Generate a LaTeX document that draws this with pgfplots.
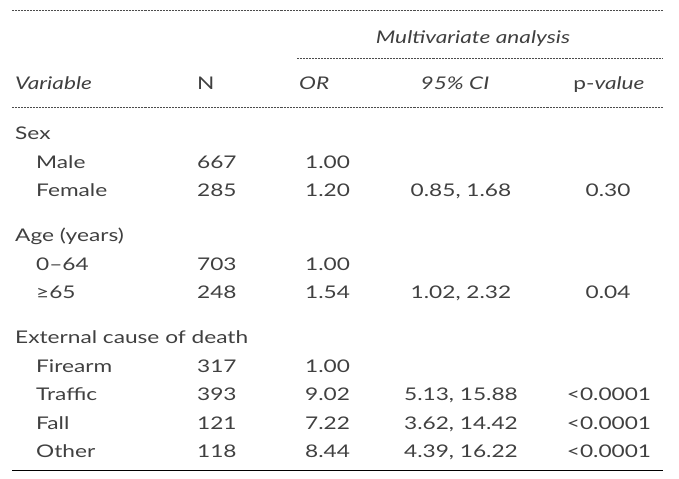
\documentclass[border=0pt]{standalone}
\usepackage{pgfplots}
\pgfplotsset{compat=1.18}
\usepackage{fontspec}
\setmainfont{Lato}[FakeStretch=1.3]
\tikzset{
  tx/.style={font=\fontsize{17.5}{20}\selectfont, inner sep=0pt, anchor=base west, text=black!75},
  tc/.style={tx, anchor=base},
}
\begin{document}
\begin{tikzpicture}[x=1bp,y=1bp]
\begin{axis}[
  width=679bp, height=479bp, scale only axis,
  xmin=0, xmax=679, ymin=0, ymax=479, y dir=reverse,
  axis lines=none, ticks=none, clip=false,
]
\addplot[draw=none, forget plot] coordinates {(0,0) (679,479)};
% rules
\addplot[black!70, line width=0.5pt, dash pattern=on 0.5pt off 1pt] coordinates {(12,10) (663,10)};
\addplot[black!70, line width=0.5pt, dash pattern=on 0.5pt off 1pt] coordinates {(297,58) (663,58)};
\addplot[black!70, line width=0.5pt, dash pattern=on 0.5pt off 1pt] coordinates {(12,107) (663,107)};
\addplot[black, line width=0.8pt] coordinates {(12,470) (663,470)};
% header
\node[tc] at (axis cs:473,43.5) {\itshape Multivariate analysis};
\node[tx] at (axis cs:15,89.5) {\itshape Variable};
\node[tx] at (axis cs:197,89.5) {N};
\node[tx] at (axis cs:299,89.5) {\itshape OR};
\node[tc] at (axis cs:455,89.5) {\itshape 95\% CI};
\node[tc] at (axis cs:609,89.5) {p-\textit{value}};
% body
\node[tx] at (axis cs:15,139.5) {Sex};
\node[tx] at (axis cs:36,168) {Male};
\node[tx] at (axis cs:197,168) {667};
\node[tx] at (axis cs:305,168) {1.00};
\node[tx] at (axis cs:36,196.5) {Female};
\node[tx] at (axis cs:197,196.5) {285};
\node[tx] at (axis cs:305,196.5) {1.20};
\node[tc] at (axis cs:461,196.5) {0.85, 1.68};
\node[tc] at (axis cs:608,196.5) {0.30};
\node[tx] at (axis cs:15,241.5) {Age (years)};
\node[tx] at (axis cs:36,270) {0–64};
\node[tx] at (axis cs:197,270) {703};
\node[tx] at (axis cs:305,270) {1.00};
\node[tx] at (axis cs:36,298.5) {≥65};
\node[tx] at (axis cs:197,298.5) {248};
\node[tx] at (axis cs:305,298.5) {1.54};
\node[tc] at (axis cs:461,298.5) {1.02, 2.32};
\node[tc] at (axis cs:608,298.5) {0.04};
\node[tx] at (axis cs:15,343.5) {External cause of death};
\node[tx] at (axis cs:36,372) {Firearm};
\node[tx] at (axis cs:197,372) {317};
\node[tx] at (axis cs:305,372) {1.00};
\node[tx] at (axis cs:36,400.5) {Traffic};
\node[tx] at (axis cs:197,400.5) {393};
\node[tx] at (axis cs:305,400.5) {9.02};
\node[tc] at (axis cs:461,400.5) {5.13, 15.88};
\node[tc] at (axis cs:609,400.5) {<0.0001};
\node[tx] at (axis cs:36,429) {Fall};
\node[tx] at (axis cs:197,429) {121};
\node[tx] at (axis cs:305,429) {7.22};
\node[tc] at (axis cs:461,429) {3.62, 14.42};
\node[tc] at (axis cs:609,429) {<0.0001};
\node[tx] at (axis cs:36,457.5) {Other};
\node[tx] at (axis cs:197,457.5) {118};
\node[tx] at (axis cs:305,457.5) {8.44};
\node[tc] at (axis cs:461,457.5) {4.39, 16.22};
\node[tc] at (axis cs:609,457.5) {<0.0001};
\end{axis}
\end{tikzpicture}
\end{document}
